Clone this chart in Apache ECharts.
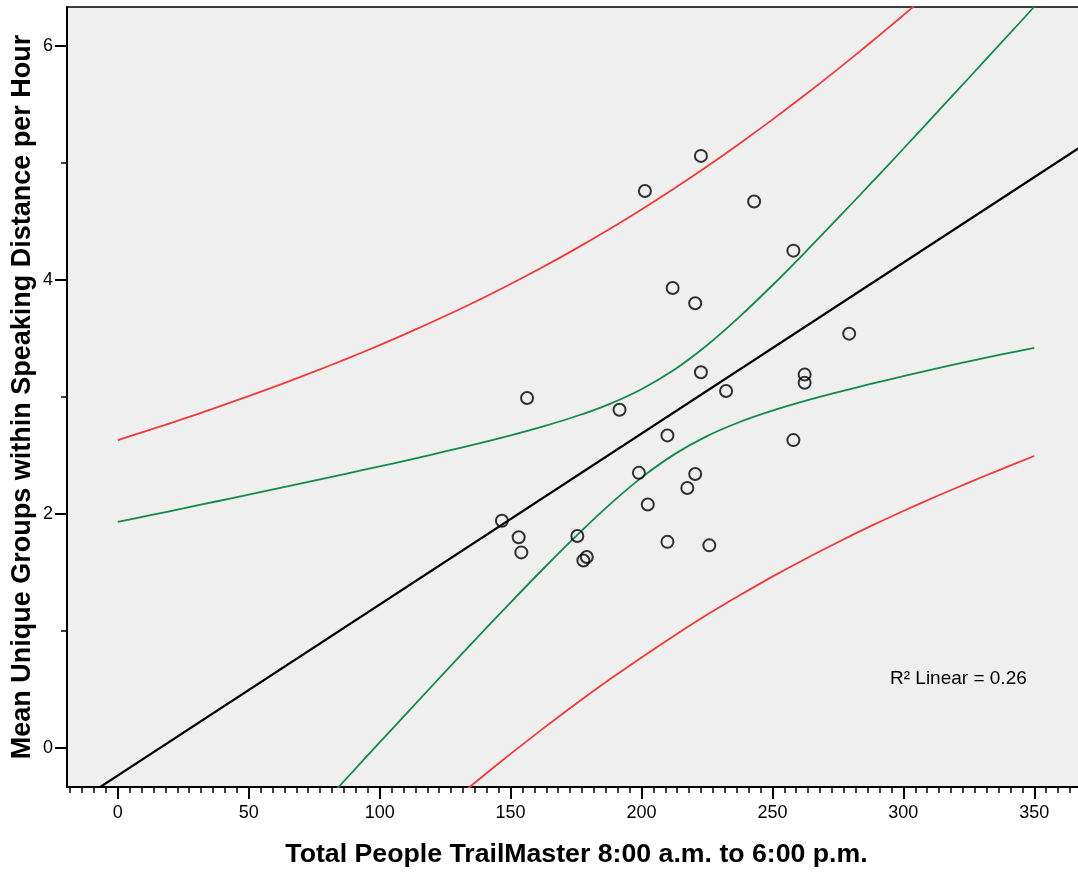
<!DOCTYPE html>
<html>
<head>
<meta charset="utf-8">
<script src="https://cdn.jsdelivr.net/npm/echarts@6/dist/echarts.min.js"></script>
<style>
html,body{margin:0;padding:0;background:#ffffff;}
#chart{width:1078px;height:874px;}
</style>
</head>
<body>
<div id="chart"></div>
<script>
// ---- data ----
const pointX = [146.7,153.1,154.1,156.3,175.5,177.8,179.1,191.6,199.0,201.3,202.4,209.9,209.9,211.9,217.5,220.5,220.5,222.7,222.7,225.9,232.3,243.0,258.0,258.0,262.3,262.3,279.3];
const pointY = [1.94,1.80,1.67,2.99,1.81,1.60,1.63,2.89,2.35,4.76,2.08,2.67,1.76,3.93,2.22,3.80,2.34,5.06,3.21,1.73,3.05,4.67,4.25,2.63,3.19,3.12,3.54];

const fitLineX = [-20, 370];
const fitLineY = [-0.53, 5.17];

const meanUpperX = [0,12.5,25,37.5,50,62.5,75,87.5,100,112.5,125,137.5,150,162.5,175,187.5,200,212.5,225,237.5,250,262.5,275,287.5,300,312.5,325,337.5,350];
const meanUpperY = [1.930,1.988,2.046,2.105,2.164,2.223,2.283,2.344,2.405,2.468,2.533,2.600,2.671,2.748,2.834,2.936,3.065,3.231,3.441,3.686,3.954,4.236,4.527,4.822,5.121,5.423,5.726,6.030,6.335];
const meanLowerX = [75,87.5,100,112.5,125,137.5,150,162.5,175,187.5,200,212.5,225,237.5,250,262.5,275,287.5,300,312.5,325,337.5,350];
const meanLowerY = [-0.564,-0.259,0.045,0.347,0.648,0.947,1.241,1.530,1.809,2.072,2.309,2.508,2.664,2.785,2.882,2.965,3.040,3.110,3.177,3.241,3.303,3.362,3.418];

const predUpperX = [0,12.5,25,37.5,50,62.5,75,87.5,100,112.5,125,137.5,150,162.5,175,187.5,200,212.5,225,237.5,250,262.5,275,287.5,300,312.5];
const predUpperY = [2.630,2.719,2.812,2.907,3.006,3.109,3.215,3.326,3.442,3.564,3.691,3.824,3.965,4.112,4.267,4.430,4.602,4.781,4.969,5.166,5.370,5.582,5.802,6.029,6.263,6.503];
const predLowerX = [125,137.5,150,162.5,175,187.5,200,212.5,225,237.5,250,262.5,275,287.5,300,312.5,325,337.5,350];
const predLowerY = [-0.510,-0.278,-0.053,0.165,0.376,0.578,0.772,0.958,1.136,1.303,1.463,1.614,1.757,1.894,2.024,2.148,2.267,2.382,2.494];

const xTickLabels = [0,50,100,150,200,250,300,350];
const yTickLabels = [0,2,4,6];
const yMinorTicks = [0,1,2,3,4,5,6];
const xMinorTicks = [];
for (let k = -4; k <= 80; k++) xMinorTicks.push(k * 50 / 11);

const xTitle = 'Total People TrailMaster 8:00 a.m. to 6:00 p.m.';
const yTitle = 'Mean Unique Groups within Speaking Distance per Hour';
const r2Text = 'R\u00B2 Linear = 0.26';

// ---- chart ----
const X_MIN = -19.4, X_MAX = 367.46;
const Y_MIN = -0.336, Y_MAX = 6.333;
const FONT = "'Liberation Sans', Arial, sans-serif";
const zip = (a, b) => a.map((v, i) => [v, b[i]]);

const chart = echarts.init(document.getElementById('chart'), null, {renderer: 'canvas'});
const majorX = {
  type: 'value', min: X_MIN, max: X_MAX, position: 'bottom',
  axisLine: {show: true, onZero: false, lineStyle: {color: '#000', width: 2}},
  axisTick: {show: true, customValues: xTickLabels, length: 12, lineStyle: {color: '#000', width: 2}},
  axisLabel: {show: true, customValues: xTickLabels, margin: 17, color: '#000', fontSize: 18, fontFamily: FONT},
  splitLine: {show: false},
  name: xTitle, nameLocation: 'middle', nameGap: 54,
  nameTextStyle: {fontWeight: 'bold', fontSize: 26.7, color: '#000', fontFamily: FONT, padding: [0, 0, 0, 6]}
};
const minorX = {
  type: 'value', min: X_MIN, max: X_MAX, position: 'bottom',
  axisLine: {show: false, onZero: false},
  axisTick: {show: true, customValues: xMinorTicks, length: 6, lineStyle: {color: '#000', width: 1.5}},
  axisLabel: {show: false}, splitLine: {show: false}
};
const majorY = {
  type: 'value', min: Y_MIN, max: Y_MAX, position: 'left',
  axisLine: {show: true, onZero: false, lineStyle: {color: '#000', width: 2}},
  axisTick: {show: true, customValues: yTickLabels, length: 12, lineStyle: {color: '#000', width: 2}},
  axisLabel: {show: true, customValues: yTickLabels, margin: 14, color: '#000', fontSize: 18, fontFamily: FONT},
  splitLine: {show: false},
  name: yTitle, nameLocation: 'middle', nameGap: 31, nameMoveOverlap: false,
  nameTextStyle: {fontWeight: 'bold', fontSize: 27, color: '#000', fontFamily: FONT}
};
const minorY = {
  type: 'value', min: Y_MIN, max: Y_MAX, position: 'left',
  axisLine: {show: false, onZero: false},
  axisTick: {show: true, customValues: yMinorTicks, length: 6, lineStyle: {color: '#000', width: 1.5}},
  axisLabel: {show: false}, splitLine: {show: false}
};

const lineSeries = (name, xs, ys, color, width) => ({
  name, type: 'line', data: zip(xs, ys), smooth: 0.3, symbol: 'none', clip: true,
  lineStyle: {color, width}, silent: true, z: 2
});

chart.setOption({
  animation: false,
  backgroundColor: '#ffffff',
  grid: {left: 67, right: -2, top: 7, bottom: 87, show: true, backgroundColor: '#efefef',
         borderColor: '#000', borderWidth: 1.5, containLabel: false, outerBoundsMode: 'none'},
  xAxis: [majorX, minorX],
  yAxis: [majorY, minorY],
  series: [
    lineSeries('Prediction upper', predUpperX, predUpperY, '#f03a3a', 1.8),
    lineSeries('Prediction lower', predLowerX, predLowerY, '#f03a3a', 1.8),
    lineSeries('Mean CI upper', meanUpperX, meanUpperY, '#138a4b', 1.8),
    lineSeries('Mean CI lower', meanLowerX, meanLowerY, '#138a4b', 1.8),
    lineSeries('Fit line', fitLineX, fitLineY, '#000000', 2.2),
    {
      name: 'Observed', type: 'scatter', data: zip(pointX, pointY),
      symbol: 'circle', symbolSize: 12, z: 5,
      itemStyle: {color: 'rgba(0,0,0,0)', borderColor: '#000', borderWidth: 2}
    }
  ],
  graphic: [{
    type: 'text', left: 890, top: 669, z: 10,
    style: {text: r2Text, fill: '#000', font: '19px ' + FONT}
  }]
});
</script>
</body>
</html>
